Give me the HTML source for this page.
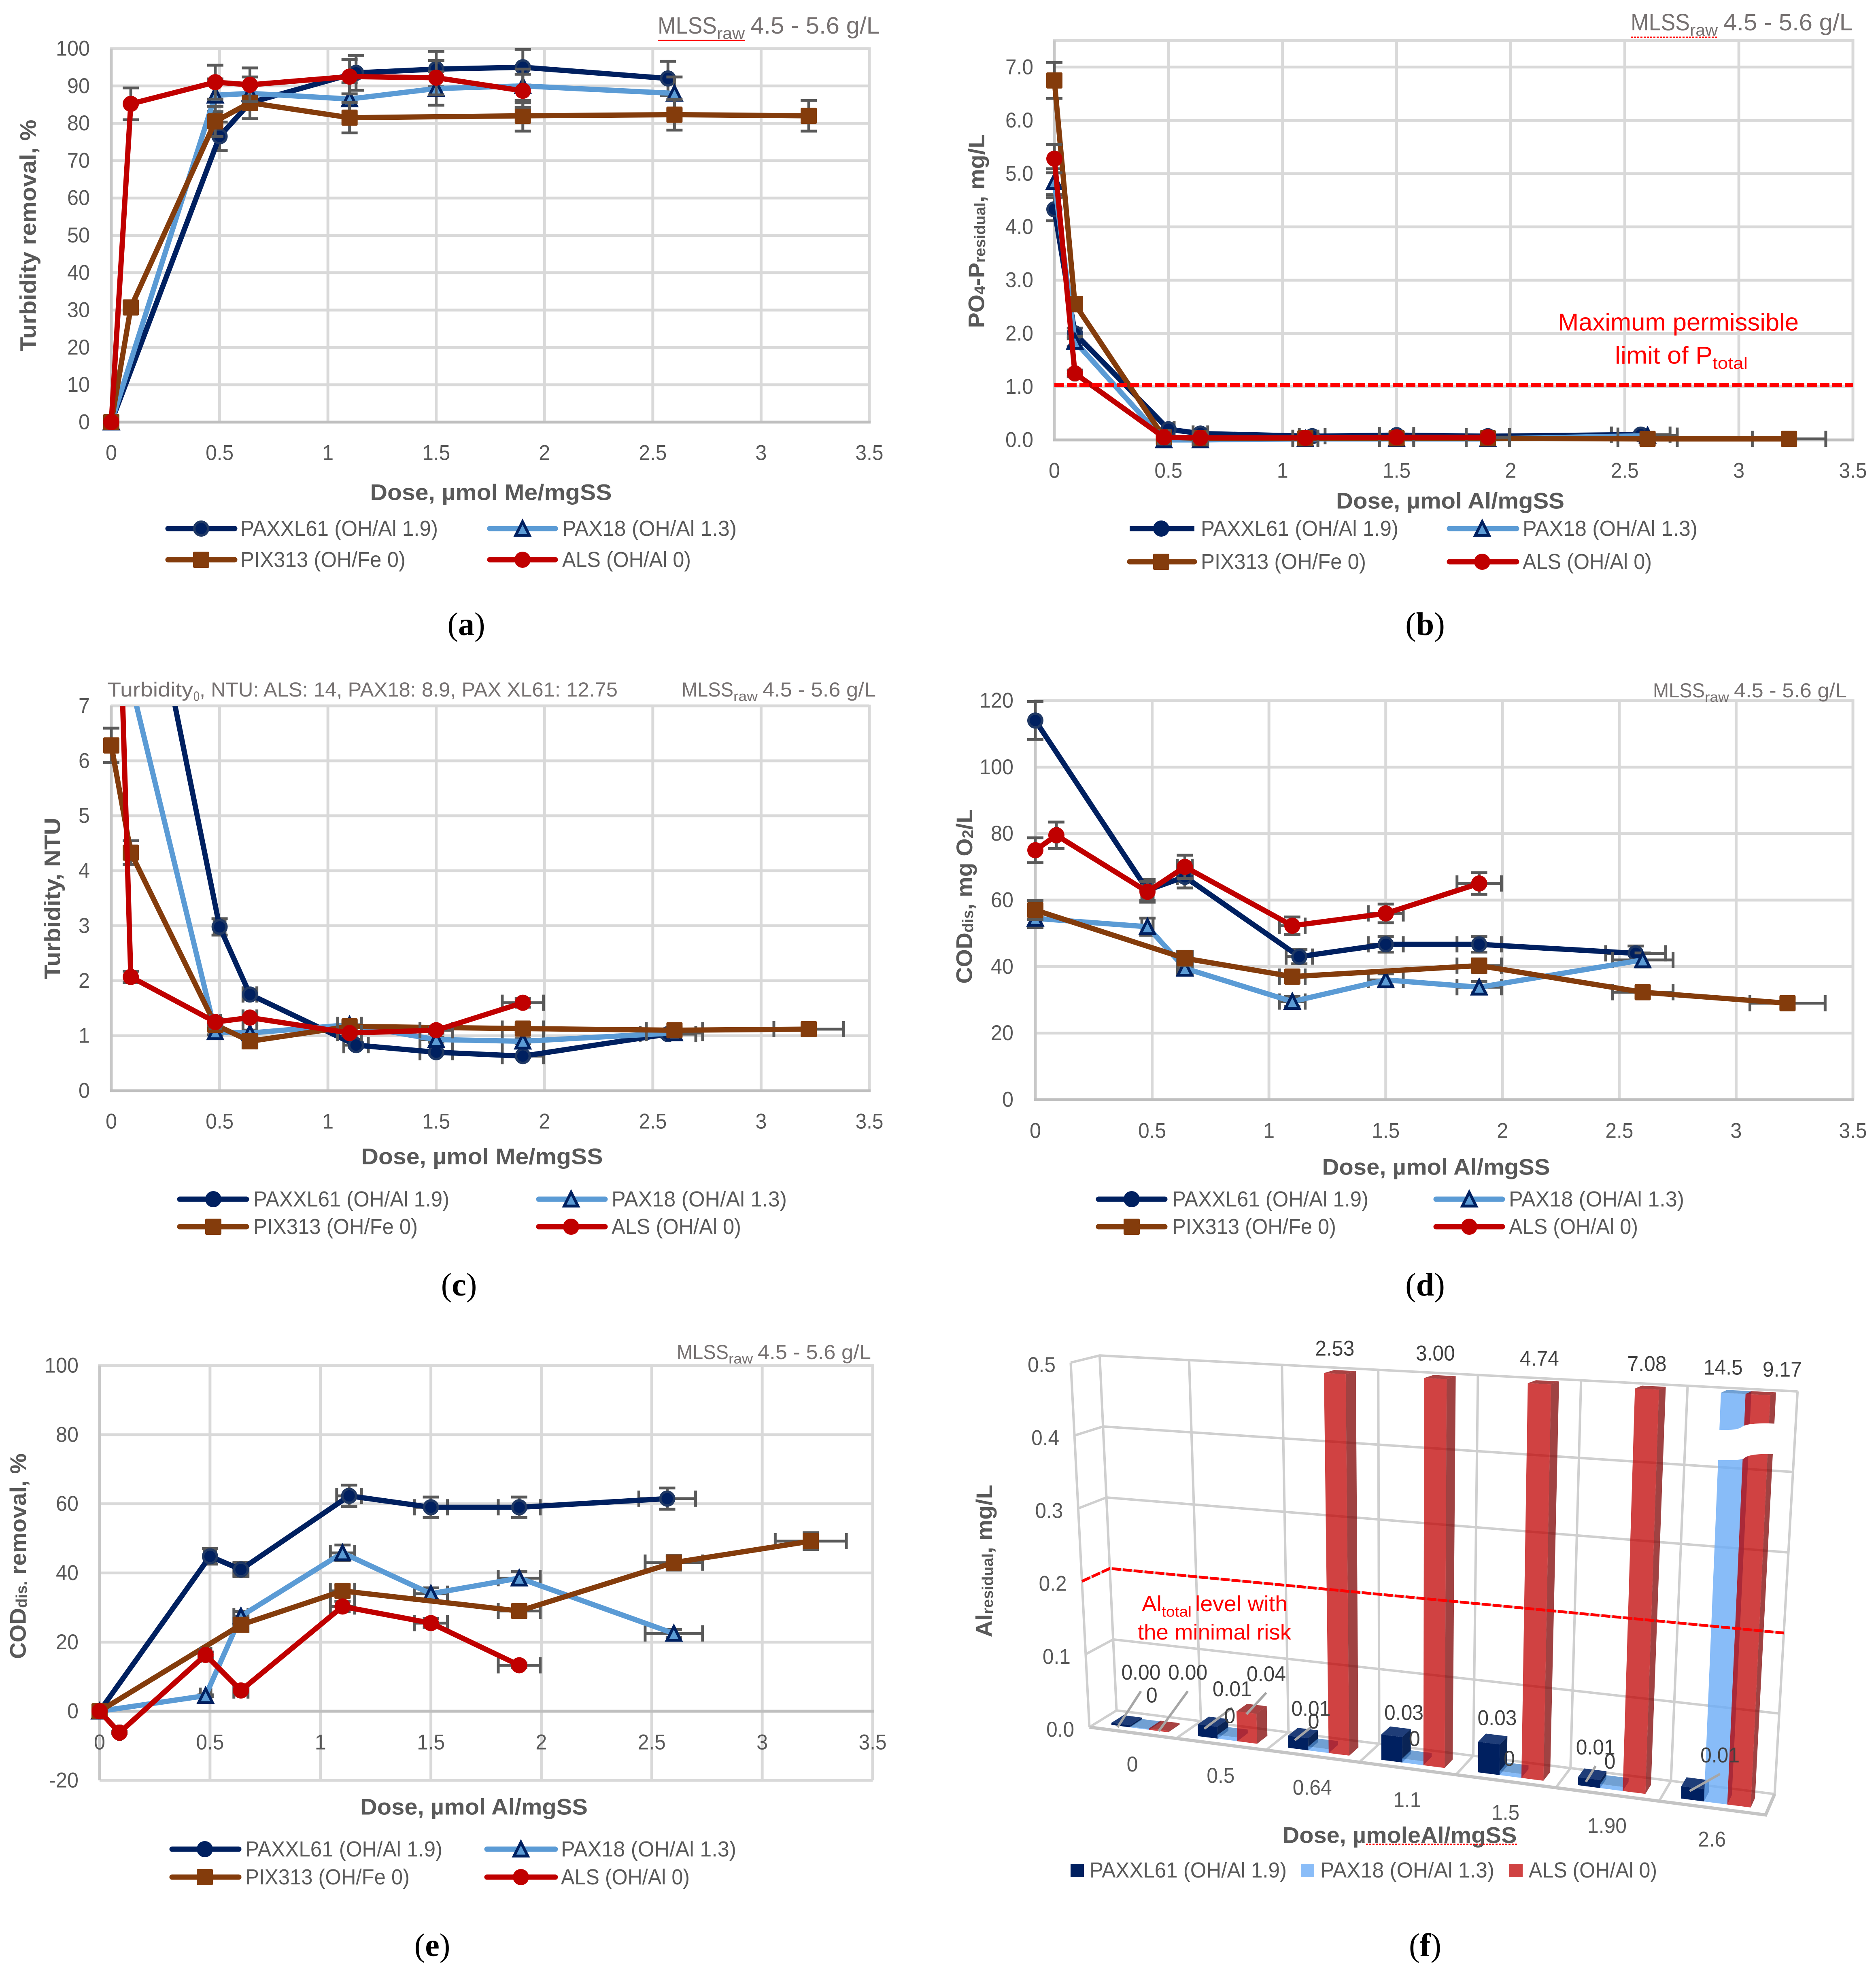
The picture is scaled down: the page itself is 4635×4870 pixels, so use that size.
<!DOCTYPE html>
<html lang="en">
<head>
<meta charset="utf-8">
<title>Coagulant dose response charts</title>
<style>
html,body{margin:0;padding:0;background:#fff;}
body{width:4635px;height:4870px;overflow:hidden;}
svg{display:block;font-family:"Liberation Sans",sans-serif;}
.tt{font-weight:bold;fill:#595959;font-size:56px;text-anchor:middle;dominant-baseline:central;}
.lg{fill:#595959;font-size:54px;dominant-baseline:central;}
.ml{fill:#767171;}
.cap{font-family:"Liberation Serif",serif;font-size:80px;fill:#000;text-anchor:middle;dominant-baseline:central;}
.red{fill:#ff0000;font-size:60px;dominant-baseline:central;}
</style>
</head>
<body>
<svg xmlns="http://www.w3.org/2000/svg" width="4635" height="4870" viewBox="0 0 4635 4870">
<rect x="0" y="0" width="4635" height="4870" fill="#fff"/>
<g id="charts"></g>

<!-- Panel a text -->
<g>
<g>
<text class="ml" x="1625" y="83" font-size="58" textLength="146" lengthAdjust="spacingAndGlyphs">MLSS</text>
<text class="ml" x="1771" y="96" font-size="40" textLength="69" lengthAdjust="spacingAndGlyphs">raw</text>
<text class="ml" x="1854" y="83" font-size="58" textLength="320" lengthAdjust="spacingAndGlyphs">4.5 - 5.6 g/L</text>
<line x1="1625" y1="100" x2="1840" y2="100" stroke="#ff0000" stroke-width="3"/>
</g>
<text class="tt" x="1213" y="1216" textLength="597" lengthAdjust="spacingAndGlyphs">Dose, µmol Me/mgSS</text>
<text class="tt" x="69" y="582" transform="rotate(-90 69 582)" textLength="573" lengthAdjust="spacingAndGlyphs">Turbidity removal, %</text>
<g>
<g><line x1="415" y1="1306" x2="580" y2="1306" stroke="#002060" stroke-width="13" stroke-linecap="round"/><circle cx="497" cy="1306" r="17" fill="#002060" stroke="#1f3864" stroke-width="6"/><text class="lg" x="594" y="1306" textLength="488" lengthAdjust="spacingAndGlyphs">PAXXL61 (OH/Al 1.9)</text></g>
<g><line x1="1210" y1="1306" x2="1372" y2="1306" stroke="#5b9bd5" stroke-width="13" stroke-linecap="round"/><polygon points="1274,1323 1291,1289 1308,1323" fill="#5b9bd5" stroke="#002060" stroke-width="7"/><text class="lg" x="1389" y="1306" textLength="431" lengthAdjust="spacingAndGlyphs">PAX18 (OH/Al 1.3)</text></g>
<g><line x1="415" y1="1383" x2="580" y2="1383" stroke="#843c0c" stroke-width="13" stroke-linecap="round"/><rect x="477" y="1363" width="40" height="40" rx="3" fill="#843c0c"/><text class="lg" x="594" y="1383" textLength="408" lengthAdjust="spacingAndGlyphs">PIX313 (OH/Fe 0)</text></g>
<g><line x1="1210" y1="1383" x2="1372" y2="1383" stroke="#c00000" stroke-width="13" stroke-linecap="round"/><circle cx="1291" cy="1383" r="20" fill="#c00000"/><text class="lg" x="1389" y="1383" textLength="318" lengthAdjust="spacingAndGlyphs">ALS (OH/Al 0)</text></g>
</g>
<text class="cap" x="1152" y="1543">(<tspan font-weight="bold">a</tspan>)</text>
</g>

<!-- Panel b text -->
<g>
<g>
<text class="ml" x="4029" y="75" font-size="58" textLength="146" lengthAdjust="spacingAndGlyphs">MLSS</text>
<text class="ml" x="4175" y="88" font-size="40" textLength="69" lengthAdjust="spacingAndGlyphs">raw</text>
<text class="ml" x="4258" y="75" font-size="58" textLength="320" lengthAdjust="spacingAndGlyphs">4.5 - 5.6 g/L</text>
<line x1="4029" y1="92" x2="4244" y2="92" stroke="#ff0000" stroke-width="3" stroke-dasharray="5 3"/>
</g>
<text class="tt" x="3583" y="1237" textLength="564" lengthAdjust="spacingAndGlyphs">Dose, µmol Al/mgSS</text>
<text class="tt" x="2412" y="571" transform="rotate(-90 2412 571)" textLength="479" lengthAdjust="spacingAndGlyphs">PO<tspan font-size="38" dy="10">4</tspan><tspan dy="-10">-P</tspan><tspan font-size="38" dy="10">residual</tspan><tspan dy="-10">, mg/L</tspan></text>
<text class="red" x="3849" y="796" textLength="595" lengthAdjust="spacingAndGlyphs">Maximum permissible</text>
<text class="red" x="3990" y="878" textLength="241" lengthAdjust="spacingAndGlyphs">limit of P</text>
<text class="red" x="4231" y="898" style="font-size:40px" textLength="87" lengthAdjust="spacingAndGlyphs">total</text>
<g>
<g><line x1="2791" y1="1306" x2="2951" y2="1306" stroke="#002060" stroke-width="13"/><circle cx="2869" cy="1306" r="20" fill="#002060"/><text class="lg" x="2967" y="1306" textLength="488" lengthAdjust="spacingAndGlyphs">PAXXL61 (OH/Al 1.9)</text></g>
<g><line x1="3581" y1="1306" x2="3747" y2="1306" stroke="#5b9bd5" stroke-width="13" stroke-linecap="round"/><polygon points="3645,1323 3662,1289 3679,1323" fill="#5b9bd5" stroke="#002060" stroke-width="7"/><text class="lg" x="3762" y="1306" textLength="432" lengthAdjust="spacingAndGlyphs">PAX18 (OH/Al 1.3)</text></g>
<g><line x1="2791" y1="1388" x2="2951" y2="1388" stroke="#843c0c" stroke-width="13" stroke-linecap="round"/><rect x="2849" y="1368" width="40" height="40" rx="3" fill="#843c0c"/><text class="lg" x="2967" y="1388" textLength="408" lengthAdjust="spacingAndGlyphs">PIX313 (OH/Fe 0)</text></g>
<g><line x1="3581" y1="1388" x2="3747" y2="1388" stroke="#c00000" stroke-width="13" stroke-linecap="round"/><circle cx="3662" cy="1388" r="20" fill="#c00000"/><text class="lg" x="3762" y="1388" textLength="319" lengthAdjust="spacingAndGlyphs">ALS (OH/Al 0)</text></g>
</g>
<text class="cap" x="3521" y="1543">(<tspan font-weight="bold">b</tspan>)</text>
</g>

<!-- Panel c text -->
<g>
<g>
<text class="ml" x="265" y="1721" font-size="50" textLength="212" lengthAdjust="spacingAndGlyphs">Turbidity</text>
<text class="ml" x="478" y="1732" font-size="34" textLength="15" lengthAdjust="spacingAndGlyphs">0</text>
<text class="ml" x="493" y="1721" font-size="50" textLength="1033" lengthAdjust="spacingAndGlyphs">, NTU: ALS: 14, PAX18: 8.9, PAX XL61: 12.75</text>
</g>
<g>
<text class="ml" x="1684" y="1721" font-size="50" textLength="128" lengthAdjust="spacingAndGlyphs">MLSS</text>
<text class="ml" x="1812" y="1732" font-size="34" textLength="60" lengthAdjust="spacingAndGlyphs">raw</text>
<text class="ml" x="1884" y="1721" font-size="50" textLength="280" lengthAdjust="spacingAndGlyphs">4.5 - 5.6 g/L</text>
</g>
<text class="tt" x="1191" y="2857" textLength="597" lengthAdjust="spacingAndGlyphs">Dose, µmol Me/mgSS</text>
<text class="tt" x="129" y="2220" transform="rotate(-90 129 2220)" textLength="399" lengthAdjust="spacingAndGlyphs">Turbidity, NTU</text>
<g>
<g><line x1="444" y1="2963" x2="609" y2="2963" stroke="#002060" stroke-width="13" stroke-linecap="round"/><circle cx="527" cy="2963" r="20" fill="#002060"/><text class="lg" x="626" y="2963" textLength="484" lengthAdjust="spacingAndGlyphs">PAXXL61 (OH/Al 1.9)</text></g>
<g><line x1="1331" y1="2963" x2="1495" y2="2963" stroke="#5b9bd5" stroke-width="13" stroke-linecap="round"/><polygon points="1394,2980 1411,2946 1428,2980" fill="#5b9bd5" stroke="#002060" stroke-width="7"/><text class="lg" x="1511" y="2963" textLength="433" lengthAdjust="spacingAndGlyphs">PAX18 (OH/Al 1.3)</text></g>
<g><line x1="444" y1="3031" x2="609" y2="3031" stroke="#843c0c" stroke-width="13" stroke-linecap="round"/><rect x="507" y="3011" width="40" height="40" rx="3" fill="#843c0c"/><text class="lg" x="626" y="3031" textLength="406" lengthAdjust="spacingAndGlyphs">PIX313 (OH/Fe 0)</text></g>
<g><line x1="1331" y1="3031" x2="1495" y2="3031" stroke="#c00000" stroke-width="13" stroke-linecap="round"/><circle cx="1411" cy="3031" r="20" fill="#c00000"/><text class="lg" x="1511" y="3031" textLength="320" lengthAdjust="spacingAndGlyphs">ALS (OH/Al 0)</text></g>
</g>
<text class="cap" x="1134" y="3175">(<tspan font-weight="bold">c</tspan>)</text>
</g>

<!-- Panel d text -->
<g>
<g>
<text class="ml" x="4084" y="1723" font-size="50" textLength="128" lengthAdjust="spacingAndGlyphs">MLSS</text>
<text class="ml" x="4212" y="1734" font-size="34" textLength="60" lengthAdjust="spacingAndGlyphs">raw</text>
<text class="ml" x="4284" y="1723" font-size="50" textLength="279" lengthAdjust="spacingAndGlyphs">4.5 - 5.6 g/L</text>
</g>
<text class="tt" x="3548" y="2883" textLength="563" lengthAdjust="spacingAndGlyphs">Dose, µmol Al/mgSS</text>
<text class="tt" x="2382" y="2215" transform="rotate(-90 2382 2215)" textLength="431" lengthAdjust="spacingAndGlyphs">COD<tspan font-size="38" dy="10">dis</tspan><tspan dy="-10">, mg O</tspan><tspan font-size="38" dy="10">2</tspan><tspan dy="-10">/L</tspan></text>
<g>
<g><line x1="2714" y1="2963" x2="2878" y2="2963" stroke="#002060" stroke-width="13" stroke-linecap="round"/><circle cx="2796" cy="2963" r="20" fill="#002060"/><text class="lg" x="2896" y="2963" textLength="485" lengthAdjust="spacingAndGlyphs">PAXXL61 (OH/Al 1.9)</text></g>
<g><line x1="3548" y1="2963" x2="3712" y2="2963" stroke="#5b9bd5" stroke-width="13" stroke-linecap="round"/><polygon points="3613,2980 3630,2946 3647,2980" fill="#5b9bd5" stroke="#002060" stroke-width="7"/><text class="lg" x="3728" y="2963" textLength="433" lengthAdjust="spacingAndGlyphs">PAX18 (OH/Al 1.3)</text></g>
<g><line x1="2714" y1="3031" x2="2878" y2="3031" stroke="#843c0c" stroke-width="13" stroke-linecap="round"/><rect x="2776" y="3011" width="40" height="40" rx="3" fill="#843c0c"/><text class="lg" x="2896" y="3031" textLength="405" lengthAdjust="spacingAndGlyphs">PIX313 (OH/Fe 0)</text></g>
<g><line x1="3548" y1="3031" x2="3712" y2="3031" stroke="#c00000" stroke-width="13" stroke-linecap="round"/><circle cx="3630" cy="3031" r="20" fill="#c00000"/><text class="lg" x="3728" y="3031" textLength="319" lengthAdjust="spacingAndGlyphs">ALS (OH/Al 0)</text></g>
</g>
<text class="cap" x="3521" y="3175">(<tspan font-weight="bold">d</tspan>)</text>
</g>

<!-- Panel e text -->
<g>
<g>
<text class="ml" x="1672" y="3358" font-size="50" textLength="128" lengthAdjust="spacingAndGlyphs">MLSS</text>
<text class="ml" x="1800" y="3369" font-size="34" textLength="60" lengthAdjust="spacingAndGlyphs">raw</text>
<text class="ml" x="1872" y="3358" font-size="50" textLength="280" lengthAdjust="spacingAndGlyphs">4.5 - 5.6 g/L</text>
</g>
<text class="tt" x="1171" y="4464" textLength="562" lengthAdjust="spacingAndGlyphs">Dose, µmol Al/mgSS</text>
<text class="tt" x="44" y="3845" transform="rotate(-90 44 3845)" textLength="508" lengthAdjust="spacingAndGlyphs">COD<tspan font-size="38" dy="10">dis.</tspan><tspan dy="-10"> removal, %</tspan></text>
<g>
<g><line x1="425" y1="4569" x2="590" y2="4569" stroke="#002060" stroke-width="13" stroke-linecap="round"/><circle cx="506" cy="4569" r="20" fill="#002060"/><text class="lg" x="606" y="4569" textLength="487" lengthAdjust="spacingAndGlyphs">PAXXL61 (OH/Al 1.9)</text></g>
<g><line x1="1203" y1="4569" x2="1372" y2="4569" stroke="#5b9bd5" stroke-width="13" stroke-linecap="round"/><polygon points="1270,4586 1287,4552 1304,4586" fill="#5b9bd5" stroke="#002060" stroke-width="7"/><text class="lg" x="1386" y="4569" textLength="433" lengthAdjust="spacingAndGlyphs">PAX18 (OH/Al 1.3)</text></g>
<g><line x1="425" y1="4638" x2="590" y2="4638" stroke="#843c0c" stroke-width="13" stroke-linecap="round"/><rect x="486" y="4618" width="40" height="40" rx="3" fill="#843c0c"/><text class="lg" x="606" y="4638" textLength="406" lengthAdjust="spacingAndGlyphs">PIX313 (OH/Fe 0)</text></g>
<g><line x1="1203" y1="4638" x2="1372" y2="4638" stroke="#c00000" stroke-width="13" stroke-linecap="round"/><circle cx="1287" cy="4638" r="20" fill="#c00000"/><text class="lg" x="1386" y="4638" textLength="318" lengthAdjust="spacingAndGlyphs">ALS (OH/Al 0)</text></g>
</g>
<text class="cap" x="1068" y="4807">(<tspan font-weight="bold">e</tspan>)</text>
</g>

<!-- Panel f text -->
<g>
<text class="tt" x="3458" y="4534" textLength="579" lengthAdjust="spacingAndGlyphs">Dose, µmoleAl/mgSS</text>
<line x1="3375" y1="4557" x2="3749" y2="4557" stroke="#ff0000" stroke-width="3" stroke-dasharray="5 3"/>
<text class="tt" x="2431" y="3857" transform="rotate(-90 2431 3857)" textLength="377" lengthAdjust="spacingAndGlyphs">Al<tspan font-size="38" dy="10">residual</tspan><tspan dy="-10">, mg/L</tspan></text>
<text class="red" x="2821" y="3963" style="font-size:54px" textLength="49" lengthAdjust="spacingAndGlyphs">Al</text>
<text class="red" x="2870" y="3982" style="font-size:36px" textLength="74" lengthAdjust="spacingAndGlyphs">total</text>
<text class="red" x="2953" y="3963" style="font-size:54px" textLength="228" lengthAdjust="spacingAndGlyphs">level with</text>
<text class="red" x="2811" y="4033" style="font-size:54px" textLength="379" lengthAdjust="spacingAndGlyphs">the minimal risk</text>
<g>
<g><rect x="2645" y="4605" width="33" height="33" fill="#002060"/><text class="lg" x="2692" y="4621" textLength="487" lengthAdjust="spacingAndGlyphs">PAXXL61 (OH/Al 1.9)</text></g>
<g><rect x="3214" y="4605" width="33" height="33" fill="#8abdf8"/><text class="lg" x="3262" y="4621" textLength="430" lengthAdjust="spacingAndGlyphs">PAX18 (OH/Al 1.3)</text></g>
<g><rect x="3729" y="4605" width="33" height="33" fill="#d04343"/><text class="lg" x="3777" y="4621" textLength="317" lengthAdjust="spacingAndGlyphs">ALS (OH/Al 0)</text></g>
</g>
<text class="cap" x="3521" y="4807">(<tspan font-weight="bold">f</tspan>)</text>
</g>
</svg>

<script>
// ---------- Shared tick labels ----------
const doseTickLabels = ['0','0.5','1','1.5','2','2.5','3','3.5'];
const doseTicks = [0,0.5,1,1.5,2,2.5,3,3.5];

// ---------- Relative error bars ----------
const yErrorFraction = 0.05;
const xErrorFraction = 0.05;

// ---------- Panel a: turbidity removal, % ----------
const aTicks = [0,10,20,30,40,50,60,70,80,90,100];
const aXLDose = [0,0.5,0.64,1.13,1.5,1.9,2.57];
const aXLValues = [0,76.5,85.5,93.5,94.5,95,92];
const aPaxDose = [0,0.48,0.64,1.1,1.5,1.9,2.6];
const aPaxValues = [0,87.5,88,86.5,89.3,90,88];
const aPixDose = [0,0.09,0.48,0.64,1.1,1.9,2.6,3.22];
const aPixValues = [0,30.7,80.5,85.5,81.5,82,82.3,82];
const aAlsDose = [0,0.09,0.48,0.64,1.1,1.5,1.9];
const aAlsValues = [0,85.2,91,90.3,92.5,92.2,88.7];

// ---------- Panel b: PO4-P residual, mg/L ----------
const bTicks = [0,1,2,3,4,5,6,7];
const bLimit = [1.03];
const bXLDose = [0,0.09,0.5,0.64,1.13,1.5,1.9,2.57];
const bXLValues = [4.33,2,0.2,0.12,0.07,0.09,0.07,0.1];
const bPaxDose = [0,0.09,0.48,0.64,1.1,1.5,1.9,2.6];
const bPaxValues = [4.85,1.85,0,0,0.02,0.02,0.02,0.08];
const bPixDose = [0,0.09,0.48,0.64,1.1,1.5,1.9,2.6,3.22];
const bPixValues = [6.75,2.55,0.05,0.03,0.03,0.03,0.03,0.02,0.02];
const bAlsDose = [0,0.09,0.48,0.64,1.1,1.5,1.9];
const bAlsValues = [5.28,1.25,0.05,0.04,0.04,0.05,0.05];

// ---------- Panel c: turbidity, NTU ----------
const cTicks = [0,1,2,3,4,5,6,7];
const cXLDose = [0,0.5,0.64,1.13,1.5,1.9,2.57];
const cXLValues = [12.75,2.98,1.75,0.83,0.7,0.63,1.03];
const cPaxDose = [0,0.48,0.64,1.1,1.5,1.9,2.6];
const cPaxValues = [8.9,1.07,1.05,1.2,0.93,0.9,1.05];
const cPixDose = [0,0.09,0.48,0.64,1.1,1.9,2.6,3.22];
const cPixValues = [6.28,4.33,1.2,0.9,1.17,1.13,1.1,1.12];
const cAlsDose = [0,0.09,0.48,0.64,1.1,1.5,1.9];
const cAlsValues = [14,2.07,1.25,1.33,1.05,1.1,1.6];

// ---------- Panel d: COD dissolved, mg O2/L ----------
const dTicks = [0,20,40,60,80,100,120];
const dXLDose = [0,0.48,0.64,1.13,1.5,1.9,2.57];
const dXLValues = [114,63,67,43,46.7,46.7,44];
const dPaxDose = [0,0.48,0.64,1.1,1.5,1.9,2.6];
const dPaxValues = [54.5,52,39.5,29.5,36,33.8,42];
const dPixDose = [0,0.64,1.1,1.9,2.6,3.22];
const dPixValues = [57,42.5,37,40.3,32.3,29];
const dAlsDose = [0,0.09,0.48,0.64,1.1,1.5,1.9];
const dAlsValues = [75,79.5,62.5,70,52.3,56,65];

// ---------- Panel e: COD dissolved removal, % ----------
const eTicks = [-20,0,20,40,60,80,100];
const eXLDose = [0,0.5,0.64,1.13,1.5,1.9,2.57];
const eXLValues = [0,44.8,41,62.3,59,59,61.5];
const ePaxDose = [0,0.48,0.64,1.1,1.5,1.9,2.6];
const ePaxValues = [0,4.5,27.5,45.8,34,38.5,22.5];
const ePixDose = [0,0.64,1.1,1.9,2.6,3.22];
const ePixValues = [0,25,34.8,29,43,49.2];
const eAlsDose = [0,0.09,0.48,0.64,1.1,1.5,1.9];
const eAlsValues = [0,-6.2,16.3,6,30.3,25.5,13.3];

// ---------- Panel f: residual aluminium, mg/L (3D bars) ----------
const fCategories = ['0','0.5','0.64','1.1','1.5','1.90','2.6'];
const fTickLabels = ['0.0','0.1','0.2','0.3','0.4','0.5'];
const fTicks = [0,0.1,0.2,0.3,0.4,0.5];
const fLimit = [0.2];
const fXLValues = [0.003,0.016,0.016,0.033,0.039,0.01,0.015];
const fPaxValues = [0.001,0.005,0.005,0.005,0.005,0.005,14.5];
const fAlsValues = [0.002,0.04,2.53,3,4.74,7.08,9.17];
const fXLPrinted = ['0.00','0.01','0.01','0.03','0.03','0.01','0.01'];
const fPaxPrinted = ['0','0','0','0','0','0','14.5'];
const fAlsPrinted = ['0.00','0.04','2.53','3.00','4.74','7.08','9.17'];

const NS = 'http://www.w3.org/2000/svg';
const root = document.getElementById('charts');

function mk(parent, tag, attrs, name) {
  const el = document.createElementNS(NS, tag);
  for (const k in attrs) el.setAttribute(k, attrs[k]);
  
  
  parent.appendChild(el);
  return el;
}

// Width of a numeric label in the narrower face used by the reference
function numericWidth(str) {
  let w = 0;
  for (const ch of str) w += ch === '.' ? 13 : ch === '-' ? 17 : 28;
  return w;
}

function numberText(parent, str, x, y, anchor, name, fill) {
  const t = mk(parent, 'text', {x: x, y: y, 'text-anchor': anchor, 'dominant-baseline': 'central', 'font-size': 53, fill: fill, textLength: numericWidth(str), lengthAdjust: 'spacingAndGlyphs'}, name);
  t.textContent = str;
  return t;
}

const seriesStyles = [
  {id: 'paxxl61', color: '#002060'},
  {id: 'pax18', color: '#5b9bd5'},
  {id: 'pix313', color: '#843c0c'},
  {id: 'als', color: '#c00000'}
];

function marker(parent, kind, x, y) {
  if (kind === 'paxxl61') mk(parent, 'circle', {cx: x, cy: y, r: 17, fill: '#002060', stroke: '#1f3864', 'stroke-width': 6}, 'point-paxxl61');
  if (kind === 'pax18') mk(parent, 'polygon', {points: (x - 17) + ',' + (y + 17) + ' ' + x + ',' + (y - 17) + ' ' + (x + 17) + ',' + (y + 17), fill: '#5b9bd5', stroke: '#002060', 'stroke-width': 7}, 'point-pax18');
  if (kind === 'pix313') mk(parent, 'rect', {x: x - 20, y: y - 20, width: 40, height: 40, rx: 3, fill: '#843c0c'}, 'point-pix313');
  if (kind === 'als') mk(parent, 'circle', {cx: x, cy: y, r: 20, fill: '#c00000'}, 'point-als');
}

function drawChart(cfg) {
  const g = mk(root, 'g', {}, cfg.name);
  const sx = v => cfg.left + v / 3.5 * (cfg.right - cfg.left);
  const sy = v => cfg.bottom - (v - cfg.yMin) / (cfg.yMax - cfg.yMin) * (cfg.bottom - cfg.top);
  const grid = mk(g, 'g', {stroke: '#d9d9d9', 'stroke-width': 7}, 'gridlines');
  cfg.yTicks.forEach(v => {
    mk(grid, 'line', {x1: cfg.left, x2: cfg.right, y1: sy(v), y2: sy(v)}, 'horizontal-gridline');
  });
  mk(grid, 'line', {x1: cfg.left, x2: cfg.right, y1: cfg.top, y2: cfg.top}, 'top-border');
  doseTicks.forEach(v => {
    mk(grid, 'line', {x1: sx(v), x2: sx(v), y1: cfg.top - 3, y2: cfg.bottom}, 'vertical-gridline');
  });
  mk(g, 'line', {x1: cfg.left, x2: cfg.left, y1: cfg.top, y2: cfg.bottom, stroke: '#c8c8c8', 'stroke-width': 7}, 'y-axis-line');
  mk(g, 'line', {x1: cfg.left - 3, x2: cfg.right + 3, y1: sy(Math.max(0, cfg.yMin)), y2: sy(Math.max(0, cfg.yMin)), stroke: '#bfbfbf', 'stroke-width': 7}, 'x-axis-line');
  cfg.yTicks.forEach(v => {
    numberText(g, cfg.yFormat ? v.toFixed(cfg.yFormat) : String(v), cfg.tickRight, sy(v), 'end', 'y-tick-label', '#595959');
  });
  doseTicks.forEach((v, i) => {
    numberText(g, doseTickLabels[i], sx(v), cfg.xLabelY, 'middle', 'x-tick-label', '#595959');
  });
  let holder = g;
  if (cfg.clip) {
    const cp = mk(g, 'clipPath', {id: cfg.name + '-clip'}, 'plot-clip');
    mk(cp, 'rect', {x: cfg.left - 60, y: cfg.top, width: cfg.right - cfg.left + 120, height: cfg.bottom - cfg.top + 60}, 'plot-clip-rect');
    holder = mk(g, 'g', {'clip-path': 'url(#' + cfg.name + '-clip)'}, 'clipped-series');
  }
  cfg.series.forEach((s, si) => {
    const st = seriesStyles[si];
    const sg = mk(holder, 'g', {}, 'series-' + st.id);
    const eb = mk(sg, 'g', {stroke: '#595959', 'stroke-width': 7, fill: 'none'}, 'error-bars-' + st.id);
    s.x.forEach((d, i) => {
      const v = s.y[i];
      if (v > cfg.yMax || v === 0) return;
      const px = sx(d), py = sy(v);
      const e = Math.abs(v) * yErrorFraction;
      const y1 = sy(v + e), y2 = sy(v - e);
      mk(eb, 'path', {d: 'M' + px + ',' + y1 + 'V' + y2 + 'M' + (px - 20) + ',' + y1 + 'H' + (px + 20) + 'M' + (px - 20) + ',' + y2 + 'H' + (px + 20)}, 'y-error-bar');
      if (cfg.xErr && d > 0) {
        const x1 = sx(d * (1 - xErrorFraction)), x2 = sx(d * (1 + xErrorFraction));
        mk(eb, 'path', {d: 'M' + x1 + ',' + py + 'H' + x2 + 'M' + x1 + ',' + (py - 20) + 'V' + (py + 20) + 'M' + x2 + ',' + (py - 20) + 'V' + (py + 20)}, 'x-error-bar');
      }
    });
    const pts = s.x.map((d, i) => sx(d) + ',' + sy(s.y[i])).join(' ');
    mk(sg, 'polyline', {points: pts, fill: 'none', stroke: st.color, 'stroke-width': 13, 'stroke-linejoin': 'round'}, 'line-' + st.id);
    s.x.forEach((d, i) => {
      if (s.y[i] > cfg.yMax) return;
      marker(sg, st.id, sx(d), sy(s.y[i]));
    });
  });
  if (cfg.limit) {
    cfg.limit.forEach(v => {
      mk(g, 'line', {x1: cfg.left, x2: cfg.right, y1: sy(v), y2: sy(v), stroke: '#ff0000', 'stroke-width': 9, 'stroke-dasharray': '24 7'}, 'limit-line');
    });
  }
}

drawChart({name: 'chart-a-turbidity-removal', left: 275, right: 2148, top: 120, bottom: 1043, yMin: 0, yMax: 100, yTicks: aTicks, tickRight: 222, xLabelY: 1119, xErr: false,
  series: [{x: aXLDose, y: aXLValues}, {x: aPaxDose, y: aPaxValues}, {x: aPixDose, y: aPixValues}, {x: aAlsDose, y: aAlsValues}]});
drawChart({name: 'chart-b-phosphate-residual', left: 2605, right: 4578, top: 100, bottom: 1087, yMin: 0, yMax: 7.5, yTicks: bTicks, yFormat: 1, tickRight: 2553, xLabelY: 1163, xErr: true, limit: bLimit,
  series: [{x: bXLDose, y: bXLValues}, {x: bPaxDose, y: bPaxValues}, {x: bPixDose, y: bPixValues}, {x: bAlsDose, y: bAlsValues}]});
drawChart({name: 'chart-c-turbidity', left: 275, right: 2148, top: 1744, bottom: 2695, yMin: 0, yMax: 7, yTicks: cTicks, tickRight: 222, xLabelY: 2771, xErr: true, clip: true,
  series: [{x: cXLDose, y: cXLValues}, {x: cPaxDose, y: cPaxValues}, {x: cPixDose, y: cPixValues}, {x: cAlsDose, y: cAlsValues}]});
drawChart({name: 'chart-d-cod-dissolved', left: 2558, right: 4578, top: 1731, bottom: 2717, yMin: 0, yMax: 120, yTicks: dTicks, tickRight: 2504, xLabelY: 2794, xErr: true,
  series: [{x: dXLDose, y: dXLValues}, {x: dPaxDose, y: dPaxValues}, {x: dPixDose, y: dPixValues}, {x: dAlsDose, y: dAlsValues}]});
drawChart({name: 'chart-e-cod-removal', left: 246, right: 2156, top: 3374, bottom: 4399, yMin: -20, yMax: 100, yTicks: eTicks, tickRight: 194, xLabelY: 4305, xErr: true,
  series: [{x: eXLDose, y: eXLValues}, {x: ePaxDose, y: ePaxValues}, {x: ePixDose, y: ePixValues}, {x: eAlsDose, y: eAlsValues}]});

// ---------- Panel f 3D bars ----------
(function drawBars() {
  const g = mk(root, 'g', {}, 'chart-f-aluminium-residual');
  const zx = x => 2300 + x * 1.489;
  const zy = y => 3250 + y * 1.033;
  const box = {
    bfl: [263, 985], bfr: [1385, 1195], bbl: [308, 945], bbr: [1400, 1145],
    tfl: [232, 113], tfr: [1418, 197], tbl: [280, 96], tbr: [1438, 182]
  };
  const vMax = 0.5;
  const bend = u => u * (0.88 + 0.12 * u);
  const mix = (a, b, t) => [a[0] + (b[0] - a[0]) * t, a[1] + (b[1] - a[1]) * t];
  // u: category position 0..n, v: value, d: depth 0 front .. 1 back
  function P(u, v, d) {
    const t = bend(u / fCategories.length);
    const h = Math.min(v, vMax) / vMax;
    const bot = mix(mix(box.bfl, box.bfr, t), mix(box.bbl, box.bbr, t), d);
    const top = mix(mix(box.tfl, box.tfr, t), mix(box.tbl, box.tbr, t), d);
    const p = mix(bot, top, h);
    return [zx(p[0]), zy(p[1])];
  }
  const pathOf = pts => 'M' + pts.map(p => p[0].toFixed(1) + ',' + p[1].toFixed(1)).join('L');
  const n = fCategories.length;
  const walls = mk(g, 'g', {fill: 'none', stroke: '#cfcfcf', 'stroke-width': 6}, 'chart-walls');
  fTicks.forEach(v => {
    mk(walls, 'path', {d: pathOf([P(0, v, 0), P(0, v, 1), P(n, v, 1)])}, 'horizontal-gridline');
  });
  fCategories.forEach((c, i) => {
    mk(walls, 'path', {d: pathOf([P(i + 1, 0, 0), P(i + 1, 0, 1), P(i + 1, vMax, 1)])}, 'category-divider');
  });
  mk(walls, 'path', {d: pathOf([P(0, 0, 1), P(0, vMax, 1)])}, 'back-wall-left-edge');
  mk(walls, 'path', {d: pathOf([P(0, 0, 0), P(0, vMax, 0)])}, 'side-wall-front-edge');
  mk(walls, 'path', {d: pathOf([P(0, 0, 0), P(n, 0, 0), P(n, 0, 1)]), stroke: '#c4c4c4', 'stroke-width': 8}, 'floor-front-edge');

  const barSeries = [
    {id: 'paxxl61', values: fXLValues, front: '#002060', side: '#0a2455', top: '#1f3d78', opacity: 1},
    {id: 'pax18', values: fPaxValues, front: '#6aabf6', side: '#4a88cc', top: '#4d88c8', opacity: 0.8},
    {id: 'als', values: fAlsValues, front: '#c00000', side: '#7f0000', top: '#8a0000', opacity: 0.74}
  ];
  const barStart = 0.18, barWidth = 0.22, dFront = 0.25, dBack = 0.7;
  const bars = mk(g, 'g', {}, 'bars');
  fCategories.forEach((c, i) => {
    barSeries.forEach((s, si) => {
      const v = s.values[i];
      const u0 = i + barStart + si * barWidth, u1 = u0 + barWidth;
      const bg = mk(bars, 'g', {'fill-opacity': s.opacity}, 'bar-' + s.id + '-' + c);
      mk(bg, 'path', {d: pathOf([P(u1, 0, dFront), P(u1, 0, dBack), P(u1, v, dBack), P(u1, v, dFront)]) + 'Z', fill: s.side}, 'bar-side');
      mk(bg, 'path', {d: pathOf([P(u0, v, dFront), P(u0, v, dBack), P(u1, v, dBack), P(u1, v, dFront)]) + 'Z', fill: s.top}, 'bar-top');
      mk(bg, 'path', {d: pathOf([P(u0, 0, dFront), P(u1, 0, dFront), P(u1, v, dFront), P(u0, v, dFront)]) + 'Z', fill: s.front}, 'bar-front');
    });
  });
  // axis break across the two off-scale bars in the last category
  mk(g, 'path', {d: 'M4235,3532 Q4290,3536 4303,3526 Q4315,3516 4370,3517 L4395,3518 L4395,3593 Q4320,3590 4308,3604 Q4290,3610 4235,3607 Z', fill: '#fff'}, 'axis-break');

  fLimit.forEach(v => {
    mk(g, 'path', {d: pathOf([P(0, v, 0), P(0, v, 1), P(n, v, 1)]), fill: 'none', stroke: '#ff0000', 'stroke-width': 7, 'stroke-dasharray': '22 5'}, 'limit-line');
  });

  const labels = mk(g, 'g', {}, 'chart-f-labels');
  fTicks.forEach((v, i) => {
    const p = P(0, v, 0);
    numberText(labels, fTickLabels[i], p[0] - 72, p[1] + 6, 'middle', 'y-tick-label', '#595959');
  });
  fCategories.forEach((c, i) => {
    const p = P(i + 0.5, 0, 0);
    numberText(labels, c, p[0], p[1] + 78, 'middle', 'category-label', '#595959');
  });
  const barTop = (i, si, v) => P(i + barStart + (si + 0.5) * barWidth, v, dFront);
  // large values printed above the clipped bars
  [2, 3, 4, 5].forEach(i => {
    const p = barTop(i, 2, fAlsValues[i]);
    numberText(labels, fAlsPrinted[i], p[0], p[1] - 62, 'middle', 'value-label-als', '#404040');
  });
  const r = barTop(6, 2, fAlsValues[6]);
  numberText(labels, fAlsPrinted[6], r[0] + 60, r[1] - 62, 'middle', 'value-label-als', '#404040');
  const q = barTop(6, 1, fPaxValues[6]);
  numberText(labels, fPaxPrinted[6], q[0] - 25, q[1] - 64, 'middle', 'value-label-pax18', '#404040');
  // small values with leader lines, offsets are label layout only
  const xlLabelOffset = [[50, -127], [61, -90], [32, -70], [30, -57], [20, -62], [16, -77], [67, -80]];
  const paxLabelOffset = [[30, -80], [6, -50], [-12, -65], [4, -52], [-3, -34], [-4, -59]];
  const xlLeader = [1, 1, 1, 0, 0, 1, 1];
  fXLPrinted.forEach((str, i) => {
    const p = barTop(i, 0, fXLValues[i]);
    const x = p[0] + xlLabelOffset[i][0], y = p[1] + xlLabelOffset[i][1];
    if (xlLeader[i]) mk(labels, 'line', {x1: p[0] - 8, y1: p[1] + 8, x2: x, y2: y + 46, stroke: '#a6a6a6', 'stroke-width': 6}, 'leader-line');
    numberText(labels, str, x, y, 'middle', 'value-label-paxxl61', '#404040');
  });
  paxLabelOffset.forEach((o, i) => {
    const p = barTop(i, 1, fPaxValues[i]);
    numberText(labels, fPaxPrinted[i], p[0] + o[0], p[1] + o[1], 'middle', 'value-label-pax18', '#404040');
  });
  const alsLabelOffset = [[72, -141], [49, -95]];
  alsLabelOffset.forEach((o, i) => {
    const p = barTop(i, 2, fAlsValues[i]);
    const x = p[0] + o[0], y = p[1] + o[1];
    mk(labels, 'line', {x1: p[0], y1: p[1] + 4, x2: x, y2: y + 46, stroke: '#a6a6a6', 'stroke-width': 6}, 'leader-line');
    numberText(labels, fAlsPrinted[i], x, y, 'middle', 'value-label-als', '#404040');
  });
})();
</script>
</body>
</html>
